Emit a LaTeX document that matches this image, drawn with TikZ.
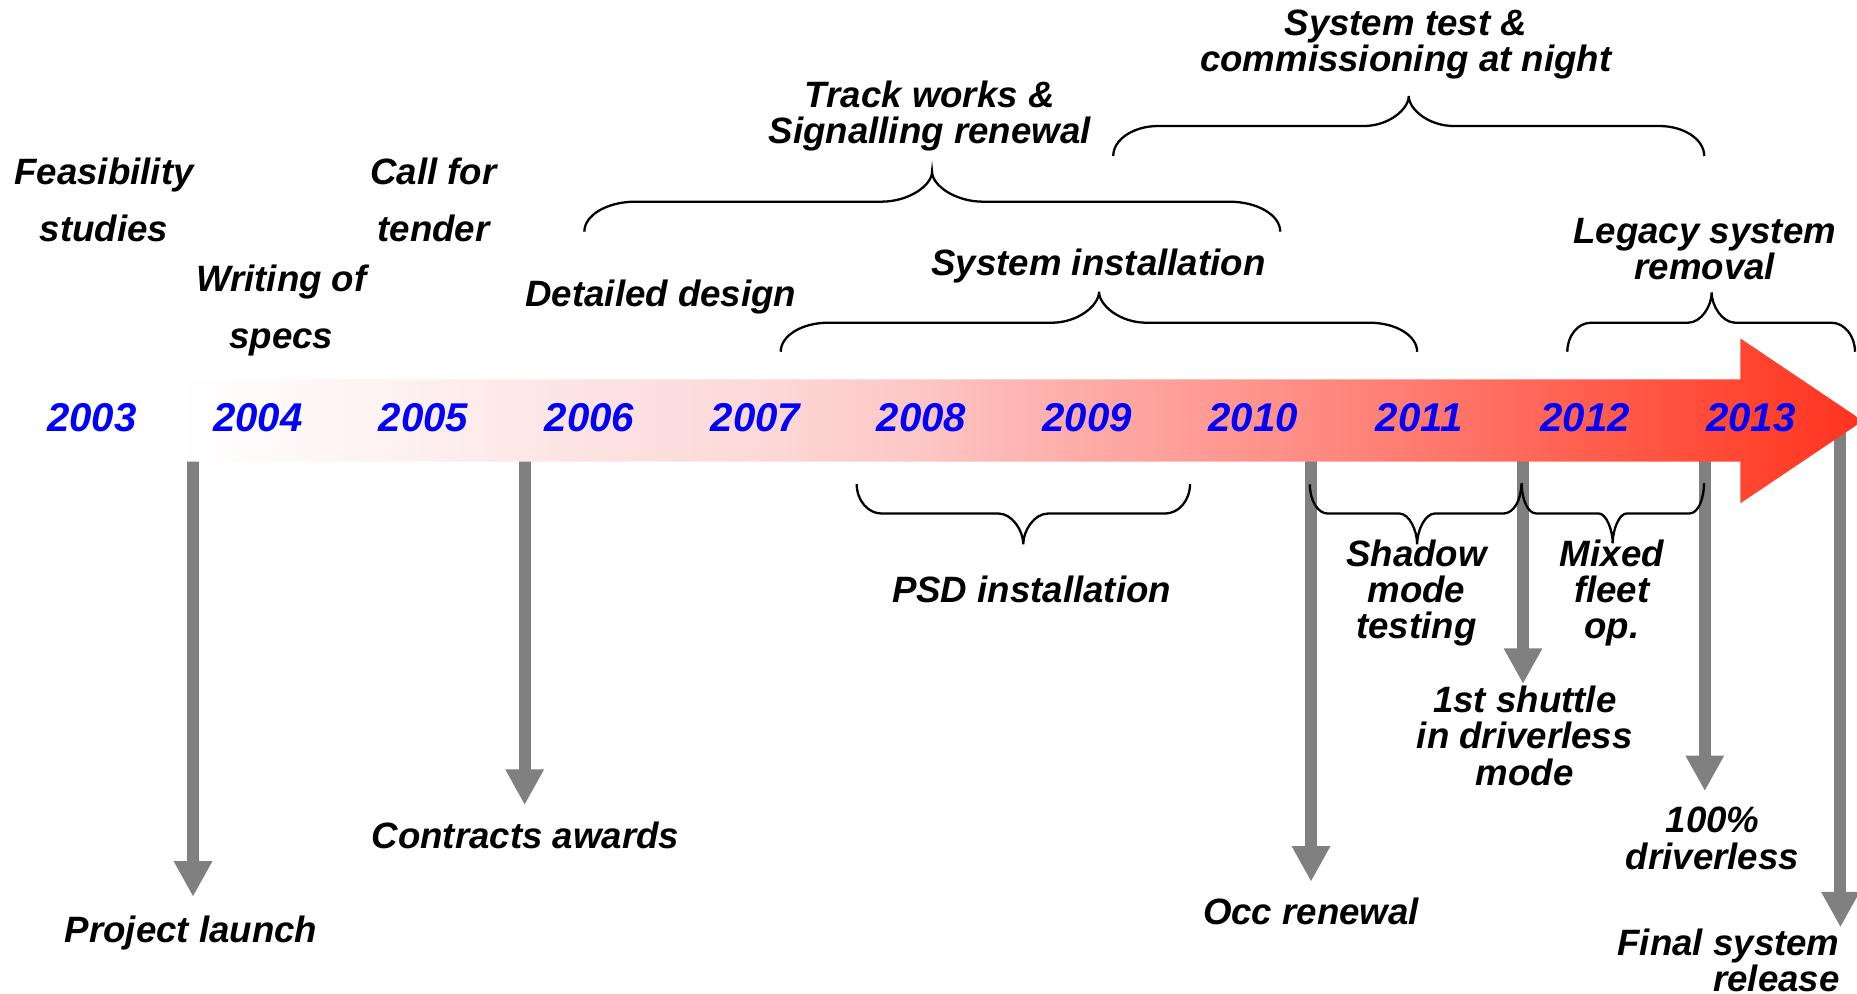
\documentclass[tikz,border=0pt]{standalone}
\usepackage{fontspec}
\setmainfont{Liberation Sans}
\usetikzlibrary{arrows.meta}
\definecolor{msgray}{RGB}{128,128,128}
\definecolor{yrblue}{RGB}{0,0,255}
\definecolor{tlA}{HTML}{FEF0F0}
\definecolor{tlB}{HTML}{FDE2E2}
\definecolor{tlC}{HTML}{FDD9D9}
\definecolor{tlD}{HTML}{FDC6C4}
\definecolor{tlE}{HTML}{FDAEAA}
\definecolor{tlF}{HTML}{FE948C}
\definecolor{tlG}{HTML}{FF7A6F}
\definecolor{tlH}{HTML}{FF5F4F}
\definecolor{tlI}{HTML}{FF4530}
\definecolor{tlJ}{HTML}{FF3320}
\pgfdeclarehorizontalshading{tlshade}{100bp}{color(0bp)=(white); color(25bp)=(white); color(29.8bp)=(white); color(36.1bp)=(tlA); color(40.9bp)=(tlB); color(45.3bp)=(tlC); color(49.8bp)=(tlD); color(53.6bp)=(tlE); color(58.7bp)=(tlF); color(63.1bp)=(tlG); color(67.6bp)=(tlH); color(72bp)=(tlI); color(75bp)=(tlJ); color(100bp)=(tlJ)}
% brace: x0, x1, xm, yEnd, yLine, yTip, d
\newcommand\tlbrace[7]{%
  \draw[bracestyle] (#1,#4)
    .. controls (#1,{#4+0.552*(#5-#4)}) and ({#1+0.448*#7},#5) .. ({#1+#7},#5)
    -- ({#3-#7},#5)
    .. controls ({#3-0.448*#7},#5) and (#3,{#5+0.552*(#6-#5)}) .. (#3,#6)
    .. controls (#3,{#5+0.552*(#6-#5)}) and ({#3+0.448*#7},#5) .. ({#3+#7},#5)
    -- ({#2-#7},#5)
    .. controls ({#2-0.448*#7},#5) and (#2,{#4+0.552*(#5-#4)}) .. (#2,#4);}
\begin{document}
\begin{tikzpicture}[x=0.01cm,y=-0.01cm,
  milestone/.style={draw=msgray, line width=0.1cm, -{Triangle[width=0.304cm,length=0.30cm]}},
  bracestyle/.style={draw=black, line width=0.55pt},
  lbl/.style={font=\fontsize{8.8pt}{8.7pt}\selectfont\bfseries\itshape, align=center, inner sep=0pt, anchor=north},
  lblwide/.style={lbl, font=\fontsize{8.8pt}{13.63pt}\selectfont\bfseries\itshape},
  yr/.style={font=\fontsize{9.65pt}{10pt}\selectfont\bfseries\itshape, text=yrblue, inner sep=0pt, anchor=base}]
\useasboundingbox (0,0) rectangle (1568,839);
% milestone arrows (drawn below the timeline)
\foreach \n/\x/\t in {m1/163/757.2, m2/443/679.7, m3/1107/744.5, m4/1286/577.5, m5/1439.5/668, m6/1554/783} {
  \coordinate (\n-s) at (\x,355);
  \coordinate (\n-e) at (\x,\t);
  \draw[milestone] (\n-s) -- (\n-e);
}
% timeline arrow
\path[shading=tlshade] (0,320.3) -- (1469.5,320.3) -- (1469.5,285.7) -- (1573,355.4)
  -- (1469.5,425) -- (1469.5,389.8) -- (0,389.8) -- cycle;
% years
\foreach \i in {0,...,10} {
  \pgfmathsetmacro\yx{77.5+140.1*\i}
  \pgfmathtruncatemacro\yrn{2003+\i}
  \node[yr] (y\yrn) at (\yx,364.5) {\yrn};
}
% braces above
\tlbrace{493.4}{1081}{787}{195.6}{170.3}{145}{43}
\tlbrace{940}{1439}{1189.5}{131.7}{106.4}{81}{38}
\tlbrace{659.2}{1196.6}{928}{297}{272.5}{246.3}{40}
\tlbrace{1323.4}{1566.3}{1445.3}{297}{272.5}{247}{20}
% braces below
\tlbrace{723.4}{1004.8}{864}{408.8}{433.6}{459.5}{21}
\tlbrace{1106}{1284.5}{1196.6}{409}{433.6}{459.5}{15}
\tlbrace{1284.9}{1438.8}{1361.7}{408}{433.5}{458.8}{12}
% labels above
\node[lblwide] (feas) at (87.8,132.5) {Feasibility\\studies};
\node[lblwide] (spec) at (237.6,223) {Writing of\\specs};
\node[lblwide] (tender) at (366,132.5) {Call for\\tender};
\node[lbl] (design) at (558,235.4) {Detailed design};
\node[lbl] (track) at (785,67.7) {Track works \&\\Signalling renewal};
\node[lbl] (systest) at (1187,7.3) {System test \&\\commissioning at night};
\node[lbl] (sysinst) at (927.5,209.1) {System installation};
\node[lbl] (legacy) at (1439.5,183.7) {Legacy system\\removal};
% labels below
\node[lbl] (psd) at (871,485.7) {PSD installation};
\node[lbl] (shadow) at (1196,455.1) {Shadow\\mode\\testing};
\node[lbl] (mixed) at (1361,455.1) {Mixed\\fleet\\op.};
\node[lbl] (launch) at (161.4,772.8) {Project launch};
\node[lbl] (contracts) at (443.7,693.5) {Contracts awards};
\node[lbl] (occ) at (1107,757.9) {Occ renewal};
\node[lbl] (shuttle) at (1287.5,578.7) {1st shuttle\\in driverless\\mode};
\node[lbl] (full) at (1446,681) {100\%\\driverless};
\node[lbl, anchor=north east, align=right] (final) at (1554,783.4) {Final system\\release};
\end{tikzpicture}
\end{document}
